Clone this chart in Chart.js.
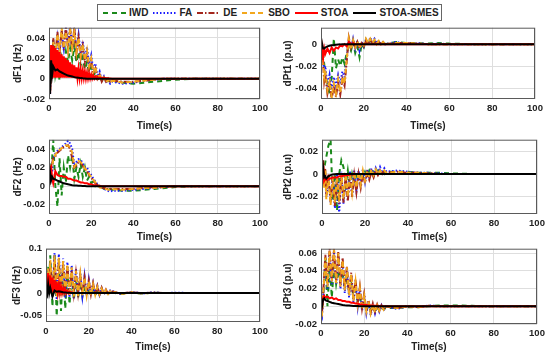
<!DOCTYPE html>
<html>
<head>
<meta charset="utf-8">
<script src="https://cdn.jsdelivr.net/npm/chart.js@4.4.1/dist/chart.umd.min.js"></script>
<style>
  body { margin: 0; background: #fff; width: 550px; height: 357px; position: relative; overflow: hidden;
         font-family: 'Liberation Sans', Arial, sans-serif; }
  canvas { position: absolute; }
  #legend { position: absolute; left: 97px; top: 4px; width: 345px; height: 17px; box-sizing: border-box;
            border: 1px solid #666; background: #fff; display: flex; align-items: center; gap: 5px;
            padding-left: 5px; font-weight: bold; font-size: 10px; color: #222; z-index: 5; }
  #legend .item { display: flex; align-items: center; gap: 3px; white-space: nowrap; }
</style>
</head>
<body>
<div id="legend"></div>
<canvas id="c1"></canvas>
<canvas id="c2"></canvas>
<canvas id="c3"></canvas>
<canvas id="c4"></canvas>
<canvas id="c5"></canvas>
<canvas id="c6"></canvas>
<script>
// time axis shared by most series (s)
const time = [0,0.5,1,1.5,2, 3,4,5,6,7,8,9,10,11,12,13,14,15,16,17,18,19,20,21,22,23,24,25,26,27,28,29,30, 35,40,45,50,55,60,70,80,90,100];
// finer time axis for the fast STOA oscillation in dF1 / dF3
const timeFine = [0,0.5,1,1.5,2,2.5,3,3.5,4,4.5,5,5.5,6,6.5,7,7.5,8,8.5,9,9.5,10,10.5,11,11.5,12,12.5,13,13.5,14,14.5,15,15.5,16,16.5,17,17.5,18,18.5,19,19.5,20,20.5,21,21.5,22,22.5,23,23.5,24, 30,40,50,60,70,80,90,100];
const xTicks = [0,20,40,60,80,100];

const seriesNames = ['IWD','FA','DE','SBO','STOA','STOA-SMES'];

// dF1 (Hz)
const dF1_IWD  = [0,-0.008,0.02,0.01,0.038, 0.004,0.016,-0.002,0.02,0.01,0.027,0.016,0.03,0.018,0.031,0.016,0.026,0.013,0.021,0.009,0.016,0.006,0.011,0.003,0.006,0,0.002,-0.002,0,-0.003,-0.001,-0.004,-0.002, -0.004,-0.005,-0.004,-0.003,-0.002,-0.001,0,0,0,0];
const dF1_FA   = [0,-0.016,0.015,0.008,0.03, 0.018,0.04,0.024,0.045,0.03,0.05,0.032,0.052,0.03,0.048,0.028,0.043,0.024,0.037,0.019,0.031,0.014,0.023,0.008,0.015,0.002,0.007,-0.002,0.002,-0.004,-0.001,-0.005,-0.003, -0.005,-0.004,-0.002,-0.001,0,0,0,0,0,0];
const dF1_DE   = [0,-0.012,0.025,0.012,0.04, 0.02,0.046,0.025,0.048,0.028,0.05,0.03,0.048,0.028,0.05,0.025,0.04,0.02,0.032,0.016,0.026,0.01,0.018,0.005,0.01,0,0.004,-0.003,0.001,-0.003,0,-0.003,-0.002, -0.003,-0.003,-0.002,-0.001,0,0,0,0,0,0];
const dF1_SBO  = [0,-0.014,0.022,0.01,0.036, 0.022,0.044,0.026,0.05,0.03,0.046,0.028,0.05,0.03,0.046,0.026,0.04,0.022,0.034,0.018,0.028,0.012,0.02,0.006,0.012,0.001,0.005,-0.002,0.001,-0.004,-0.001,-0.004,-0.002, -0.004,-0.003,-0.002,-0.001,0,0,0,0,0,0];
const dF1_STOA = [0,-0.015,0.033,0,0.032,0.001,0.03,0.001,0.028,0.001,0.026,0.001,0.024,0.001,0.022,0.001,0.02,0.001,0.018,0.001,0.016,0.001,0.014,0.001,0.013,0.0005,0.011,0.0005,0.01,0.0005,0.009,0.0005,0.008,0.0005,0.007,0,0.006,0,0.005,0,0.004,0,0.003,0,0.002,0,0.0015,0,0.001, 0,0,0,0,0,0,0,0];
const dF1_SMES = [0,-0.015,0.018,0.004,0.012, 0.008,0.009,0.007,0.006,0.005,0.004,0.003,0.0025,0.002,0.0015,0.001,0.0008,0.0005,0.0003,0.0002,0,0,0,0,0,0,0,0,0,0,0,0,0, 0,0,0,0,0,0,0,0,0,0];

// dPt1 (p.u)
const dPt1_IWD  = [0,-0.004,-0.01,-0.018,-0.028, -0.036,-0.045,-0.03,0.005,-0.022,-0.014,-0.02,-0.012,-0.018,-0.008,-0.002,-0.006,0.002,-0.008,-0.002,-0.012,0,-0.003,0.004,0,0.004,-0.001,0.003,0,0.002,0,0.002,0, 0.002,0.001,0.001,0.0005,0.001,0.0005,0,0,0,0];
const dPt1_FA   = [0,-0.005,-0.014,-0.025,-0.02, -0.038,-0.028,-0.042,-0.03,-0.038,-0.028,-0.036,-0.025,-0.03,-0.012,0.004,-0.004,0.005,-0.004,0.003,-0.006,0.002,-0.002,0.004,0,0.006,0.002,0.005,0.001,0.003,0,0.002,0, 0.002,0,0.001,0,0.0005,0,0,0,0,0];
const dPt1_DE   = [0,-0.006,-0.018,-0.034,-0.028, -0.045,-0.036,-0.05,-0.038,-0.048,-0.035,-0.046,-0.032,-0.038,-0.016,0.006,-0.003,0.004,-0.004,0.002,-0.004,0.001,-0.002,0.003,0,0.004,0.001,0.003,0,0.002,0,0.002,0, 0.001,0.001,0.0005,0,0,0,0,0,0,0];
const dPt1_SBO  = [0,-0.006,-0.016,-0.03,-0.024, -0.042,-0.034,-0.048,-0.036,-0.045,-0.032,-0.044,-0.03,-0.036,-0.014,0.005,-0.005,0.004,-0.003,0.003,-0.004,0.002,-0.001,0.005,0.001,0.005,0.001,0.004,0,0.003,0,0.002,0, 0.001,0.001,0.0005,0,0,0,0,0,0,0];
const dPt1_STOA = [0.005,-0.004,-0.012,-0.004,-0.009, -0.004,-0.008,-0.003,-0.006,-0.003,-0.004,-0.001,-0.002,0,-0.002,0.002,0,0.001,0,0,0,0,0,0,0,0,0,0,0,0,0,0,0, 0,0,0,0,0,0,0,0,0,0];
const dPt1_SMES = [0.006,0,-0.004,-0.004,-0.003, -0.002,-0.0015,-0.001,-0.0008,-0.0005,-0.0003,-0.0002,0,0,0,0,0,0,0,0,0,0,0,0,0,0,0,0,0,0,0,0,0, 0,0,0,0,0,0,0,0,0,0];

// dF2 (Hz)
const dF2_IWD  = [0,0.01,0.022,0.03,0.05, 0,-0.022,0.03,-0.01,0.02,0.004,0.033,0.02,0.033,0.008,0.02,0.01,0.024,0.01,0.02,0.006,0.01,0.003,0.005,0,0.001,-0.002,-0.001,-0.003,-0.002,-0.004,-0.003,-0.004, -0.005,-0.005,-0.004,-0.003,-0.002,-0.001,0,0,0,0];
const dF2_FA   = [0,0.012,0.022,0.015,0.03, 0.035,0.038,0.04,0.042,0.044,0.046,0.049,0.046,0.04,0.022,0.026,0.029,0.028,0.025,0.02,0.02,0.015,0.012,0.008,0.005,0.002,0,-0.002,-0.003,-0.004,-0.005,-0.006,-0.005, -0.005,-0.004,-0.003,-0.002,-0.001,0,0,0,0,0];
const dF2_DE   = [0,0.01,0.02,0.025,0.03, 0.032,0.036,0.038,0.04,0.042,0.043,0.044,0.04,0.03,0.02,0.022,0.026,0.025,0.022,0.018,0.016,0.012,0.009,0.006,0.003,0.001,-0.001,-0.002,-0.002,-0.003,-0.003,-0.003,-0.003, -0.003,-0.003,-0.002,-0.001,-0.001,0,0,0,0,0];
const dF2_SBO  = [0,0.011,0.021,0.02,0.028, 0.034,0.037,0.039,0.041,0.042,0.044,0.043,0.042,0.036,0.021,0.024,0.027,0.026,0.023,0.019,0.017,0.013,0.01,0.007,0.004,0.001,-0.001,-0.002,-0.003,-0.003,-0.004,-0.004,-0.003, -0.004,-0.003,-0.002,-0.002,-0.001,0,0,0,0,0];
const dF2_STOA = [0.02,0.019,0.021,0.008,0.003, 0.016,0.012,0.011,0.011,0.01,0.01,0.008,0.008,0.007,0.006,0.006,0.005,0.004,0.004,0.003,0.003,0.002,0.002,0.001,0.001,0.0005,0.0005,0,0,0,0,0,0, 0,0,0,0,0,0,0,0,0,0];
const dF2_SMES = [0,0.015,0.006,0.01,0.008, 0.007,0.006,0.005,0.004,0.003,0.0025,0.002,0.0015,0.001,0.0008,0.0006,0.0004,0.0003,0.0002,0.0001,0,0,0,0,0,0,0,0,0,0,0,0,0, 0,0,0,0,0,0,0,0,0,0];

// dPt2 (p.u)
const dPt2_IWD  = [0,0.002,0.005,0.01,0.015, 0.025,0.03,-0.024,0,-0.032,0,0.012,0.006,-0.01,0.003,-0.012,0,-0.008,0.001,-0.006,0.002,-0.003,0.002,-0.002,0.003,-0.001,0.002,0,0.003,0,0.002,0,0.002, 0.002,0.002,0.001,0.001,0.001,0.0005,0,0,0,0];
const dPt2_FA   = [0,0.008,-0.01,0,-0.02, -0.004,-0.025,-0.004,-0.03,0,-0.035,0.002,-0.026,0,-0.022,0.002,-0.018,0.003,-0.014,0.003,-0.01,0.004,-0.007,0.004,-0.004,0.005,-0.002,0.005,0,0.006,0.001,0.005,0.002, 0.003,0.002,0.001,0.001,0.0005,0,0,0,0,0];
const dPt2_DE   = [0,0.012,-0.01,0.005,-0.018, 0,-0.024,-0.002,-0.028,-0.004,-0.026,-0.002,-0.025,-0.002,-0.024,0,-0.02,-0.001,-0.016,0,-0.012,0,-0.008,0.001,-0.005,0.002,-0.003,0.003,-0.001,0.003,0,0.003,0.001, 0.002,0.001,0.001,0.0005,0,0,0,0,0,0];
const dPt2_SBO  = [0,0.01,-0.012,0.004,-0.022, -0.002,-0.027,-0.003,-0.025,-0.002,-0.024,0,-0.022,0,-0.02,0.001,-0.016,0.002,-0.012,0.002,-0.009,0.003,-0.006,0.003,-0.003,0.004,-0.001,0.004,0,0.003,0.001,0.003,0.001, 0.002,0.001,0.001,0.0005,0,0,0,0,0,0];
const dPt2_STOA = [0,0.01,-0.006,-0.004,-0.005, -0.004,-0.004,-0.003,-0.003,-0.003,-0.002,-0.002,-0.0015,-0.001,-0.001,-0.0005,-0.0005,-0.0002,0,0,0,0,0,0,0,0,0,0,0,0,0,0,0, 0,0,0,0,0,0,0,0,0,0];
const dPt2_SMES = [0,0.006,-0.003,-0.002,-0.004, -0.002,-0.001,-0.0005,-0.0002,0,0,0,0,0,0,0,0,0,0,0,0,0,0,0,0,0,0,0,0,0,0,0,0, 0,0,0,0,0,0,0,0,0,0];

// dF3 (Hz)
const dF3_IWD  = [0,0.02,0.06,0.03,0.085, -0.03,0.09,-0.052,0.07,-0.04,0.06,-0.035,0.05,-0.025,0.04,-0.015,0.03,-0.01,0.025,-0.008,0.018,-0.006,0.012,-0.005,0.008,-0.004,0.006,-0.003,0.004,-0.003,0.003,-0.002,0.002, -0.002,0.001,-0.001,0.001,0,0,0,0,0,0];
const dF3_FA   = [0,0.02,0.05,0.02,0.07, -0.01,0.09,-0.015,0.088,-0.005,0.078,-0.01,0.07,-0.01,0.062,-0.012,0.055,-0.008,0.046,-0.006,0.038,-0.006,0.03,-0.005,0.022,-0.005,0.016,-0.004,0.011,-0.003,0.008,-0.003,0.006, -0.002,0.003,-0.001,0.002,0,0.001,0,0,0,0];
const dF3_DE   = [0,0.02,0.045,0.015,0.06, 0,0.075,0,0.07,0.005,0.065,0.005,0.06,0,0.05,0,0.045,0,0.04,-0.002,0.035,-0.003,0.028,-0.003,0.022,-0.003,0.016,-0.003,0.012,-0.002,0.008,-0.002,0.005, -0.001,0.002,0,0.001,0,0,0,0,0,0];
const dF3_SBO  = [0,0.022,0.055,0.02,0.075, -0.005,0.085,-0.008,0.08,-0.004,0.072,-0.006,0.065,-0.006,0.058,-0.008,0.05,-0.006,0.042,-0.005,0.035,-0.005,0.027,-0.004,0.02,-0.004,0.014,-0.003,0.01,-0.003,0.007,-0.002,0.005, -0.002,0.002,-0.001,0.001,0,0,0,0,0,0];
const dF3_STOA = [0,0.01,0.045,0.005,0.04,0.002,0.035,0.001,0.03,0.001,0.025,0.001,0.02,0,0.015,0,0.011,0,0.008,0,0.005,0,0.003,0,0.002,0,0,0,0,0,0,0,0,0,0,0,0,0,0,0,0,0,0,0,0,0,0,0,0, 0,0,0,0,0,0,0,0];
const dF3_SMES = [0,-0.005,0.02,0,0.012, -0.008,0.006,0.003,0.004,0.003,0.002,0.0015,0.001,0.0008,0.0005,0.0003,0.0002,0.0001,0,0,0,0,0,0,0,0,0,0,0,0,0,0,0, 0,0,0,0,0,0,0,0,0,0];

// dPt3 (p.u)
const dPt3_IWD  = [-0.005,-0.003,0.01,0.03,0.055, 0,0.048,0.01,0.045,0.025,0.04,0.028,0.038,0.022,0.03,0.018,0.025,0.012,0.018,0.005,0.01,0,0.003,-0.004,0,-0.005,-0.002,-0.005,-0.002,-0.004,-0.002,-0.003,-0.002, -0.002,-0.001,-0.001,0,0.001,0.001,0.0005,0,0,0];
const dPt3_FA   = [-0.005,-0.01,0.01,0.03,0.05, 0.02,0.058,0.025,0.06,0.025,0.058,0.02,0.05,0.015,0.042,0.01,0.035,0.005,0.028,0,0.02,-0.005,0.012,-0.008,0.005,-0.01,0.002,-0.008,0.001,-0.006,0.001,-0.005,0, -0.003,0,-0.001,0.001,0,0,0,0,0,0];
const dPt3_DE   = [-0.005,-0.006,0.015,0.035,0.058, 0.025,0.065,0.03,0.065,0.028,0.062,0.024,0.055,0.02,0.045,0.014,0.038,0.008,0.03,0.003,0.022,-0.002,0.014,-0.005,0.007,-0.007,0.003,-0.006,0.002,-0.005,0.001,-0.004,0, -0.002,0,-0.001,0.0005,0,0,0,0,0,0];
const dPt3_SBO  = [-0.005,-0.008,0.012,0.032,0.055, 0.022,0.062,0.028,0.064,0.026,0.06,0.022,0.052,0.018,0.044,0.012,0.036,0.006,0.028,0.002,0.02,-0.003,0.012,-0.006,0.006,-0.008,0.002,-0.007,0.001,-0.005,0,-0.004,0, -0.002,0,-0.001,0.0005,0,0,0,0,0,0];
const dPt3_STOA = [-0.005,0,0.01,0.012,0.01, 0.011,0.009,0.01,0.008,0.009,0.007,0.007,0.006,0.006,0.005,0.005,0.004,0.004,0.003,0.003,0.002,0.002,0.0015,0.0015,0.001,0.001,0.0008,0.0005,0.0005,0.0003,0.0002,0.0001,0, 0,0,0,0,0,0,0,0,0,0];
const dPt3_SMES = [-0.005,0,0.008,0.009,0.007, 0.006,0.005,0.004,0.0035,0.003,0.0025,0.002,0.0015,0.0012,0.001,0.0008,0.0006,0.0004,0.0003,0.0002,0.0001,0,0,0,0,0,0,0,0,0,0,0,0, 0,0,0,0,0,0,0,0,0,0];

// y tick labels per panel
const yTicks_dF1  = [-0.02, 0, 0.02, 0.04];
const yTicks_dPt1 = [-0.04, -0.02, 0];
const yTicks_dF2  = [-0.02, 0, 0.02, 0.04];
const yTicks_dPt2 = [-0.02, 0, 0.02];
const yTicks_dF3  = [-0.05, 0, 0.05, 0.1];
const yTicks_dPt3 = [-0.02, 0, 0.02, 0.04, 0.06];

const styles = [
  { color: '#1b8a1b', dash: [5, 4],         width: 2 },
  { color: '#1a1aff', dash: [1.5, 2],       width: 2 },
  { color: '#a3261c', dash: [6, 2, 1.5, 2], width: 2 },
  { color: '#f2a71d', dash: [5, 3],         width: 2 },
  { color: '#ff0000', dash: [],             width: 2 },
  { color: '#000000', dash: [],             width: 2 }
];

// legend
const legend = document.getElementById('legend');
seriesNames.forEach((name, i) => {
  const s = styles[i];
  const item = document.createElement('span');
  item.className = 'item';
  item.innerHTML = '<svg width="23" height="6"><line x1="0" y1="3" x2="23" y2="3" stroke="' + s.color +
    '" stroke-width="' + s.width + '" stroke-dasharray="' + (s.dash.length ? s.dash.join(' ') : 'none') + '"/></svg>' +
    '<span>' + name + '</span>';
  legend.appendChild(item);
});

const T = time, F = timeFine;
const panels = [
  { id: 'c1', rect: [0, 18, 275, 114],   padL: 12, padR: 15, yW: 37, xH: 33, title: 'dF1 (Hz)',   min: -0.02,  max: 0.05,  ticks: yTicks_dF1,
    data: [dF1_IWD, dF1_FA, dF1_DE, dF1_SBO, dF1_STOA, dF1_SMES], times: [T, T, T, T, F, T] },
  { id: 'c2', rect: [275, 18, 275, 114], padL: 7,  padR: 15, yW: 39, xH: 33, title: 'dPt1 (p.u)', min: -0.05,  max: 0.015, ticks: yTicks_dPt1,
    data: [dPt1_IWD, dPt1_FA, dPt1_DE, dPt1_SBO, dPt1_STOA, dPt1_SMES], times: [T, T, T, T, T, T] },
  { id: 'c3', rect: [0, 130, 275, 113],  padL: 12, padR: 15, yW: 37, xH: 29, title: 'dF2 (Hz)',   min: -0.03,  max: 0.05,  ticks: yTicks_dF2,
    data: [dF2_IWD, dF2_FA, dF2_DE, dF2_SBO, dF2_STOA, dF2_SMES], times: [T, T, T, T, T, T] },
  { id: 'c4', rect: [275, 130, 275, 113], padL: 7, padR: 13, yW: 40, xH: 29, title: 'dPt2 (p.u)', min: -0.035, max: 0.03,  ticks: yTicks_dPt2,
    data: [dPt2_IWD, dPt2_FA, dPt2_DE, dPt2_SBO, dPt2_STOA, dPt2_SMES], times: [T, T, T, T, T, T] },
  { id: 'c5', rect: [0, 239, 275, 114],  padL: 11, padR: 15, yW: 35, xH: 31, title: 'dF3 (Hz)',   min: -0.065, max: 0.1,   ticks: yTicks_dF3,
    data: [dF3_IWD, dF3_FA, dF3_DE, dF3_SBO, dF3_STOA, dF3_SMES], times: [T, T, T, T, F, T] },
  { id: 'c6', rect: [275, 239, 275, 114], padL: 7, padR: 13, yW: 39, xH: 29, title: 'dPt3 (p.u)', min: -0.02,  max: 0.065, ticks: yTicks_dPt3,
    data: [dPt3_IWD, dPt3_FA, dPt3_DE, dPt3_SBO, dPt3_STOA, dPt3_SMES], times: [T, T, T, T, T, T] }
];

// box around each axes, like the original figure
const framePlugin = {
  id: 'frame',
  afterDatasetsDraw(chart) {
    const a = chart.chartArea, ctx = chart.ctx;
    ctx.save();
    ctx.strokeStyle = '#5a5a5a';
    ctx.lineWidth = 1;
    ctx.strokeRect(a.left + 0.5, a.top + 0.5, a.right - a.left - 1, a.bottom - a.top - 1);
    ctx.restore();
  }
};

const tickFont = { family: "'Liberation Sans', Arial, sans-serif", size: 9.5, weight: 'bold' };
const titleFont = { family: "'Liberation Sans', Arial, sans-serif", size: 10, weight: 'bold' };

panels.forEach(p => {
  const cv = document.getElementById(p.id);
  cv.style.left = p.rect[0] + 'px';
  cv.style.top = p.rect[1] + 'px';
  cv.width = p.rect[2];
  cv.height = p.rect[3];

  const datasets = p.data.map((arr, i) => ({
    label: seriesNames[i],
    data: p.times[i].map((t, k) => ({ x: t, y: arr[k] })),
    borderColor: styles[i].color,
    borderDash: styles[i].dash,
    borderWidth: styles[i].width,
    pointRadius: 0,
    tension: 0,
    fill: false,
    order: 6 - i
  }));

  new Chart(cv, {
    type: 'line',
    data: { datasets: datasets },
    options: {
      responsive: false,
      animation: false,
      devicePixelRatio: 1,
      layout: { padding: { left: p.padL, right: p.padR, top: 8, bottom: 0 } },
      plugins: { legend: { display: false }, tooltip: { enabled: false } },
      scales: {
        x: {
          type: 'linear', min: 0, max: 100,
          afterBuildTicks: s => { s.ticks = xTicks.map(v => ({ value: v })); },
          afterFit: s => { s.height = p.xH; },
          ticks: { font: tickFont, color: '#222', padding: 4, maxRotation: 0, callback: v => String(v) },
          grid: { color: '#dedede', drawTicks: false },
          border: { display: false },
          title: { display: true, text: 'Time(s)', font: titleFont, color: '#222', padding: 0 }
        },
        y: {
          min: p.min, max: p.max,
          afterBuildTicks: s => { s.ticks = p.ticks.map(v => ({ value: v })); },
          afterFit: s => { s.width = p.yW; },
          ticks: { font: tickFont, color: '#222', padding: 4, callback: v => String(v) },
          grid: { color: '#dedede', drawTicks: false },
          border: { display: false },
          title: { display: true, text: p.title, font: titleFont, color: '#222', padding: 0 }
        }
      }
    },
    plugins: [framePlugin]
  });
});
</script>
</body>
</html>
